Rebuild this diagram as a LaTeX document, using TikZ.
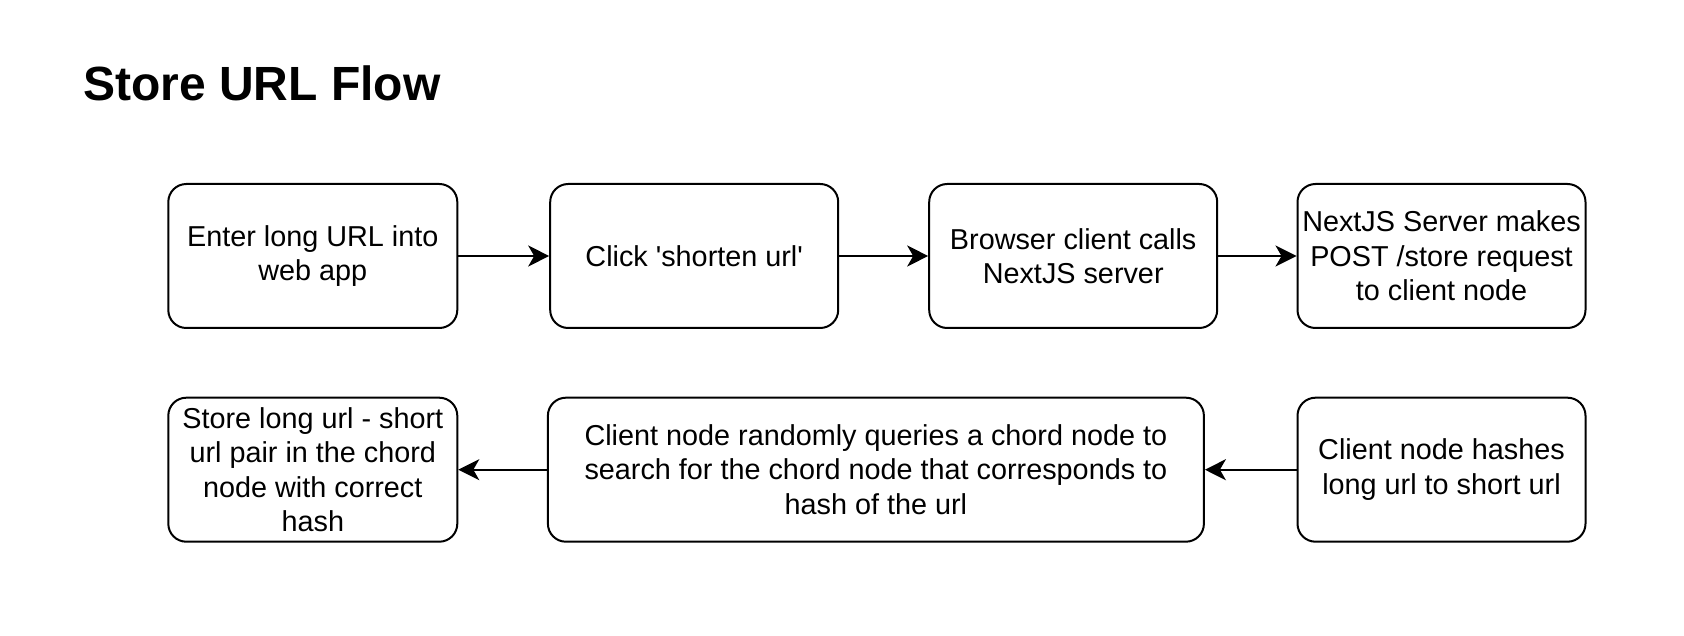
\documentclass[tikz,border=0pt]{standalone}
\usepackage{fontspec}
\setmainfont{Liberation Sans}
\usetikzlibrary{arrows.meta}
\tikzset{
  box/.style={draw=black, line width=2pt, rounded corners=18pt, fill=white,
    minimum height=144pt, inner sep=0pt, align=center,
    font=\fontsize{28.8}{34.56}\selectfont},
  flow/.style={draw=black, line width=2pt, -{Stealth[length=21pt, width=21pt, inset=6pt]}}
}
\begin{document}
\begin{tikzpicture}[x=1pt, y=-1pt]
\useasboundingbox (0,0) rectangle (1684,636);
\node[anchor=base west, font=\fontsize{48}{57.6}\selectfont\bfseries, inner sep=0pt] (title) at (83,101) {Store URL Flow};

\node[box, minimum width=289pt] (b1) at (312.8,256) {Enter long URL into\\web app};
\node[box, minimum width=288pt] (b2) at (694.2,256) {Click \textquotesingle shorten url\textquotesingle};
\node[box, minimum width=288pt] (b3) at (1073.2,256) {Browser client calls\\NextJS server};
\node[box, minimum width=288pt] (b4) at (1441.5,256) {NextJS Server makes\\POST /store request\\to client node};

\node[box, minimum width=289pt] (b5) at (312.8,469.7) {Store long url - short\\url pair in the chord\\node with correct\\hash};
\node[box, minimum width=656pt] (b6) at (875.9,469.7) {Client node randomly queries a chord node to\\search for the chord node that corresponds to\\hash of the url};
\node[box, minimum width=288pt] (b7) at (1441.5,469.7) {Client node hashes\\long url to short url};

\draw[flow] (b1) -- (b2);
\draw[flow] (b2) -- (b3);
\draw[flow] (b3) -- (b4);
\draw[flow] (b7) -- (b6);
\draw[flow] (b6) -- (b5);
\end{tikzpicture}
\end{document}
